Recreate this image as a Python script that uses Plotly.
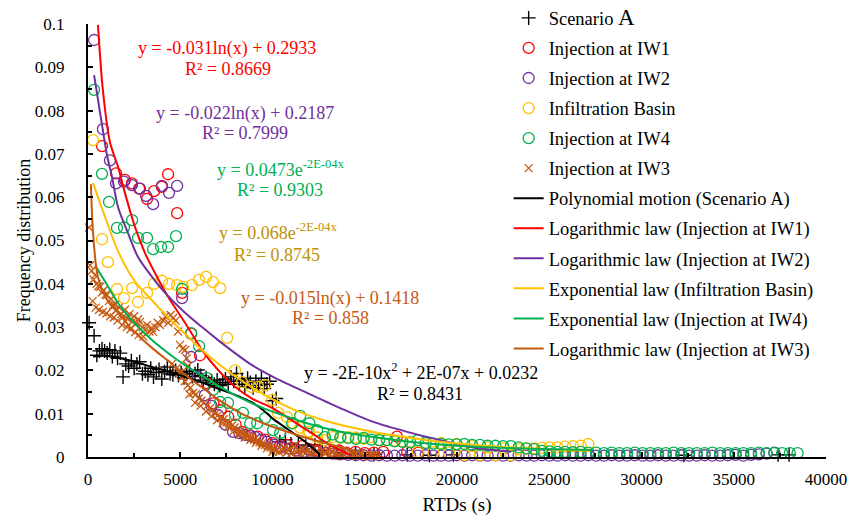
import plotly.graph_objects as go

# ---------------- data ----------------
SA_X = [60, 330, 480, 620, 760, 900, 1040, 1180, 1320, 1460, 1600, 1750, 1900,
        2050, 2200, 2350, 2500, 2650, 2800, 2950, 3100, 3250, 3400,
        3550, 3700, 3850, 4000, 4150, 4300, 4450, 4600, 4750, 4900,
        5050, 5200, 5350, 5500, 5650, 5800, 5950, 6100, 6250, 6400,
        6550, 6700, 6850, 7000, 7150, 7300, 7450, 7600, 7750, 7900,
        8050, 8200, 8350, 8500, 8650, 8800, 8950, 9100, 9250, 9400,
        9550, 9700, 9850, 10000, 10200, 10400, 10700, 11000, 11400, 11800,
        12300, 12700, 13500, 14500, 15500, 17300, 18500, 19800, 32300, 37400, 38000]
SA_Y = [0.031, 0.028, 0.0235, 0.0245, 0.025, 0.0245, 0.024, 0.0248, 0.0232, 0.0245, 0.0228, 0.024, 0.0185,
        0.0215, 0.021, 0.0222, 0.0205, 0.0215, 0.022, 0.0192, 0.0198, 0.019, 0.0205,
        0.0185, 0.0195, 0.0202, 0.018, 0.0197, 0.0208, 0.0192, 0.019, 0.02, 0.0188,
        0.0195, 0.0183, 0.0192, 0.0198, 0.0186, 0.0193, 0.0201, 0.0188, 0.0178, 0.0183,
        0.0172, 0.0176, 0.0168, 0.0178, 0.0165, 0.0172, 0.018, 0.0168, 0.0185, 0.0175,
        0.0193, 0.0168, 0.0178, 0.0163, 0.0182, 0.0172, 0.016, 0.0175, 0.0165, 0.0182,
        0.0158, 0.0168, 0.0175, 0.013, 0.0135, 0.0035, 0.004, 0.003, 0.0028, 0.0025,
        0.0028, 0.0015, 0.001, 0.0008, 0.0006, 0.0005, 0.0004, 0.0005, 0.0004, 0.0005, 0.0005]

IW1_X = [760, 1520, 2000, 2380, 2770, 3200, 3580, 4000, 4340, 4830,
         5100, 5590, 6070, 6450, 6800, 7200, 7600, 8000, 8350, 8800,
         9200, 9600, 10000, 10400, 10800, 11200, 11600, 12000, 12400, 12800,
         13200, 13600, 14000, 14500, 15000, 15500, 16000, 16750, 17300, 17900]
IW1_Y = [0.0718, 0.0655, 0.064, 0.0632, 0.062, 0.0596, 0.0614, 0.0624, 0.0653, 0.0563,
         0.0379, 0.0285, 0.0235, 0.017, 0.0124, 0.0108, 0.0093, 0.0075, 0.0058, 0.005,
         0.0047, 0.004, 0.0032, 0.0024, 0.0028, 0.002, 0.0025, 0.0018, 0.0015, 0.0022,
         0.0012, 0.0015, 0.001, 0.0012, 0.0009, 0.001, 0.0012, 0.0047, 0.0012, 0.001]

IW2_X = [330, 810, 1190, 1520, 1950, 2380, 2820, 3150, 3530, 4010, 4390, 4830,
         5100, 5590, 5970, 6340, 6700, 7050, 7450, 7860, 8200, 8510, 8800, 9060, 9400, 9700,
         10100, 10500, 10900, 11300, 11700]
IW2_Y = [0.0963, 0.0757, 0.0685, 0.0632, 0.0636, 0.0628, 0.062, 0.0603, 0.0584, 0.0626, 0.061, 0.0626,
         0.0367, 0.0231, 0.0185, 0.0143, 0.0118, 0.0097, 0.0075, 0.0058, 0.0055, 0.0051, 0.0048, 0.0046, 0.004, 0.0035,
         0.0028, 0.0022, 0.002, 0.0015, 0.0012]

BA_X = [270, 760, 1080, 1570, 1950, 2390, 2710, 3200, 3580, 4010, 4390, 4830, 5150, 5640, 6020, 6400, 6780, 7160,
        7540, 7970, 8350, 8840, 9220, 9600, 9980, 10300, 10790, 11120, 11500, 11930]
BA_Y = [0.0732, 0.0503, 0.045, 0.0388, 0.0367, 0.039, 0.0358, 0.0379, 0.04, 0.0407, 0.04, 0.0397, 0.0393, 0.0397, 0.0409, 0.0416, 0.0404, 0.039,
        0.0275, 0.02, 0.0173, 0.0162, 0.0162, 0.0166, 0.0132, 0.0102, 0.0092, 0.0078, 0.0068, 0.0058]

IW4_X = [330, 760, 1140, 1570, 1950, 2390, 2710, 3200, 3530, 3960, 4340, 4770,
         5100, 5590, 6020, 6450, 6780, 7160, 7590, 7970, 8400, 8790, 9170, 9600, 10030, 10410, 11060, 11500]
IW4_Y = [0.0848, 0.0654, 0.0589, 0.0529, 0.053, 0.0547, 0.0506, 0.0506, 0.048, 0.0485, 0.0485, 0.051,
         0.0388, 0.0286, 0.0256, 0.0182, 0.0155, 0.0127, 0.0125, 0.0097, 0.0102, 0.0078, 0.0078, 0.009, 0.0062, 0.0055, 0.0078, 0.0095]

# long tails near zero (shared time positions)
TAIL_X = [12000, 12420, 12840, 13260, 13680, 14100, 14520, 14940, 15360, 15780,
          16200, 16620, 17040, 17460, 17880, 18300, 18720, 19140, 19560, 19980,
          20400, 20820, 21240, 21660, 22080, 22500, 22920, 23340, 23760, 24180,
          24600, 25020, 25440, 25860, 26280, 26700, 27120, 27540, 27960, 28380,
          28800, 29220, 29640, 30060, 30480, 30900, 31320, 31740, 32160, 32580,
          33000, 33420, 33840, 34260, 34680, 35100, 35520, 35940, 36360, 36780,
          37200, 37620, 38040, 38460]
IW4_TAIL_Y = [0.0078, 0.0062, 0.0046, 0.0052, 0.0046, 0.0044, 0.0042, 0.0044, 0.004, 0.0039,
              0.0039, 0.0036, 0.0035, 0.0034, 0.0039, 0.0032, 0.0031, 0.003, 0.0029, 0.0029,
              0.003, 0.0028, 0.0028, 0.0026, 0.0026, 0.0025, 0.0025, 0.0022, 0.002, 0.0018,
              0.0014, 0.0013, 0.0012, 0.0012, 0.0011, 0.0012, 0.001, 0.001, 0.0009, 0.001,
              0.0009, 0.0009, 0.001, 0.0009, 0.0009, 0.0009, 0.0009, 0.001, 0.0009, 0.0009,
              0.0009, 0.0009, 0.001, 0.0009, 0.0009, 0.0009, 0.0009, 0.0009, 0.001, 0.0009,
              0.0009, 0.0009, 0.0009, 0.0009]
IW2_TAIL_Y = [0.0015, 0.0012, 0.001, 0.0008, 0.0006, 0.0005, 0.0004, 0.0004, 0.0003, 0.0004,
              0.0003, 0.0003, 0.0004, 0.0003, 0.0003, 0.0004, 0.0003, 0.0003, 0.0003, 0.0004,
              0.0003, 0.0004, 0.0003, 0.0003, 0.0004, 0.0003, 0.0003, 0.0004, 0.0003, 0.0003,
              0.0004, 0.0003, 0.0003, 0.0004, 0.0003, 0.0003, 0.0004, 0.0003, 0.0003, 0.0004,
              0.0003, 0.0003, 0.0004, 0.0003, 0.0003, 0.0004, 0.0003, 0.0003, 0.0004, 0.0003,
              0.0003, 0.0004, 0.0003, 0.0003, 0.0004, 0.0005, 0.0003, 0.0005, 0.0006, 0.0008,
              0.001]
BA_TAIL_Y = [0.0058, 0.0045, 0.0039, 0.0046, 0.0044, 0.0046, 0.0045, 0.0042, 0.0046, 0.0039,
             0.0039, 0.0038, 0.0036, 0.0035, 0.0012, 0.0033, 0.0011, 0.0032, 0.001, 0.003,
             0.0005, 0.0025, 0.0004, 0.0022, 0.0004, 0.002, 0.0004, 0.0018, 0.0019, 0.002,
             0.0021, 0.0022, 0.0022, 0.0024, 0.0025, 0.0026, 0.003]

IW3_X_UP = [60, 110, 200, 300, 380, 470, 560, 650, 750, 850,
            950, 1030, 1130, 1250, 1350, 1460, 1560, 1680, 1800, 1900,
            2000, 2120, 2250, 2390, 2500, 2620, 2720, 2820, 2950, 3090,
            3200, 3330, 3450, 3530, 3650, 3780, 3900, 4070, 4200, 4350,
            4480, 4610, 4750, 4880, 4990, 5130, 5260]
IW3_Y_UP = [0.053, 0.0443, 0.043, 0.041, 0.042, 0.040, 0.0395, 0.0393, 0.038, 0.0385,
            0.0375, 0.0374, 0.036, 0.0365, 0.035, 0.0351, 0.034, 0.0345, 0.033, 0.0323,
            0.034, 0.032, 0.033, 0.0312, 0.0325, 0.031, 0.0318, 0.0312, 0.030, 0.0293,
            0.0305, 0.029, 0.0298, 0.0289, 0.030, 0.031, 0.0305, 0.0316, 0.0325, 0.031,
            0.0328, 0.0321, 0.0315, 0.029, 0.0259, 0.025, 0.0247]
IW3_X_UP2 = [250, 420, 600, 800, 1000, 1200, 1400, 1600, 1850, 2100, 2300, 2550, 2750, 3000,
             4550, 4800, 4950, 5350, 5420]
IW3_Y_UP2 = [0.036, 0.0345, 0.034, 0.0335, 0.0332, 0.0325, 0.0322, 0.0315, 0.0305, 0.030, 0.0295, 0.0288, 0.0282, 0.0278,
             0.0215, 0.0205, 0.0195, 0.0228, 0.021]
IW3_X_MID = [5100, 5250, 5400, 5550, 5700, 5850, 6000, 6150, 6300, 6450, 6600, 6750, 6900, 7050, 7200, 7350, 7500, 7650,
             7800, 7950, 8100, 8250, 8400, 8550, 8700, 8850, 9000, 9150, 9300, 9450, 9600, 9750, 9900, 10050, 10200, 10350]
IW3_Y_MID = [0.0185, 0.0175, 0.0165, 0.016, 0.0148, 0.0145, 0.0135, 0.013, 0.0125, 0.0118, 0.0112, 0.0108, 0.010, 0.0097, 0.009, 0.0087, 0.008, 0.0078,
             0.0072, 0.0068, 0.0063, 0.006, 0.0055, 0.0052, 0.0048, 0.0045, 0.004, 0.0038, 0.0034, 0.0032, 0.0028, 0.0025, 0.0022, 0.0018, 0.0015, 0.0012]
IW3_X_MID2 = [5500, 5800, 6100, 6400, 6700, 7000, 7300, 7600, 7900, 8200, 8500, 8800, 9100, 9400, 9700, 10000]
IW3_Y_MID2 = [0.0145, 0.0125, 0.0118, 0.0105, 0.0095, 0.0085, 0.0078, 0.007, 0.006, 0.0052, 0.0045, 0.004, 0.0033, 0.0026, 0.002, 0.0012]
IW3_X_LOW = [10500, 10630, 10760, 10890, 11020, 11150, 11280, 11410, 11540, 11670, 11800, 11930, 12060, 12190, 12320,
             12450, 12580, 12710, 12840, 12970, 13100, 13230, 13360, 13490, 13620, 13750, 13880, 14010, 14140, 14270,
             14400, 14530, 14660, 14790, 14920, 15050, 15180, 15310, 15440, 15570, 15700]
IW3_Y_LOW = [0.0015, 0.0022, 0.001, 0.0018, 0.0008, 0.0025, 0.0012, 0.0016, 0.0006, 0.002, 0.001, 0.0015, 0.0005, 0.0018, 0.0009,
             0.0013, 0.0004, 0.0016, 0.0008, 0.0012, 0.0004, 0.0014, 0.0007, 0.001, 0.0003, 0.0012, 0.0006, 0.0009, 0.0003, 0.001,
             0.0005, 0.0008, 0.0003, 0.0007, 0.0004, 0.0006, 0.0002, 0.0005, 0.0003, 0.0004, 0.0002]

# trend lines
POLY_X = [270, 1000, 1630, 2500, 3470, 4400, 5260, 6200, 7050, 8240, 8890, 9500, 10030, 10700, 11300, 11870, 12580]
POLY_Y = [0.0232, 0.0234, 0.0229, 0.022, 0.0208, 0.0197, 0.0185, 0.0172, 0.0158, 0.0139, 0.0126, 0.0108, 0.0088, 0.0068, 0.005, 0.0032, 0.0005]
LOG1_X = [540, 800, 1190, 1630, 2000, 2550, 3090, 3630, 4340, 5260, 6180, 7050, 7970, 8890, 10030, 11870, 13120, 14200]
LOG1_Y = [0.0998, 0.085, 0.0727, 0.067, 0.061, 0.0531, 0.0471, 0.0425, 0.037, 0.031, 0.0247, 0.0201, 0.0162, 0.0135, 0.0112, 0.0062, 0.0028, 0.0005]
LOG2_X = [330, 760, 1030, 1300, 1630, 2170, 2710, 3470, 4180, 5260, 6180, 7050, 7970, 8890, 10030, 11870, 13670, 15460, 17300, 19090, 20720, 22900]
LOG2_Y = [0.0882, 0.0767, 0.0697, 0.0647, 0.0577, 0.0517, 0.0462, 0.0416, 0.0379, 0.0333, 0.030, 0.027, 0.024, 0.0212, 0.0185, 0.0148, 0.0113, 0.0081, 0.0058, 0.0039, 0.0023, 0.0012]
EXPB_X = [270, 920, 1630, 2550, 3400, 4400, 5370, 6500, 7860, 9500, 11120, 13000, 15000, 17500, 20000, 22500, 25000, 27200]
EXPB_Y = [0.0633, 0.0555, 0.0475, 0.0405, 0.0365, 0.032, 0.028, 0.0235, 0.019, 0.0145, 0.011, 0.0082, 0.0062, 0.0044, 0.0031, 0.0023, 0.0018, 0.0014]
EXP4_X = [380, 1000, 1630, 2500, 3470, 4400, 5260, 6200, 7050, 8240, 9500, 10680, 11870, 13500, 15460, 17300, 19090, 21260, 24000, 27400]
EXP4_Y = [0.0443, 0.040, 0.0355, 0.031, 0.027, 0.0238, 0.0212, 0.0187, 0.0165, 0.0137, 0.0113, 0.0095, 0.0078, 0.006, 0.0046, 0.0036, 0.0029, 0.0023, 0.0019, 0.0016]
LOG3_X = [160, 270, 540, 1080, 1630, 2500, 3470, 4400, 5260, 6200, 7050, 8240, 9500, 10680, 12000, 13500, 14500]
LOG3_Y = [0.063, 0.052, 0.0415, 0.036, 0.0333, 0.029, 0.0252, 0.022, 0.019, 0.016, 0.0133, 0.0102, 0.0078, 0.006, 0.0042, 0.0025, 0.0015]

X_TICKS = [0, 5000, 10000, 15000, 20000, 25000, 30000, 35000, 40000]
X_TICK_TEXT = [str(v) for v in X_TICKS]

# ---------------- colours ----------------
C_BLACK = "#000000"
C_RED = "#FF0000"
C_PURPLE = "#7030A0"
C_YELLOW = "#FFC000"
C_GREEN = "#00B050"
C_BROWN = "#C55A11"
C_GOLD_TXT = "#BF9000"

for xs, ys in [(SA_X, SA_Y), (IW1_X, IW1_Y), (IW2_X, IW2_Y), (BA_X, BA_Y), (IW4_X, IW4_Y),
               (TAIL_X, IW4_TAIL_Y), (TAIL_X[:len(IW2_TAIL_Y)], IW2_TAIL_Y), (TAIL_X[:len(BA_TAIL_Y)], BA_TAIL_Y),
               (IW3_X_UP, IW3_Y_UP), (IW3_X_UP2, IW3_Y_UP2), (IW3_X_MID, IW3_Y_MID), (IW3_X_MID2, IW3_Y_MID2),
               (IW3_X_LOW, IW3_Y_LOW), (POLY_X, POLY_Y), (LOG1_X, LOG1_Y), (LOG2_X, LOG2_Y), (EXPB_X, EXPB_Y),
               (EXP4_X, EXP4_Y), (LOG3_X, LOG3_Y)]:
    assert len(xs) == len(ys), (len(xs), len(ys))

FONT = "Liberation Serif, Times New Roman, serif"

fig = go.Figure()

def circles(name, xs, ys, color):
    fig.add_trace(go.Scatter(x=xs, y=ys, mode="markers", name=name, legendgroup=name,
                             cliponaxis=False,
                             marker=dict(symbol="circle-open", size=11, color=color, line=dict(width=1.3, color=color))))

fig.add_trace(go.Scatter(x=SA_X, y=SA_Y, mode="markers", name="Scenario <span style='font-size:23px'>A</span>",
                         legendgroup="sa", cliponaxis=False,
                         marker=dict(symbol="cross-thin-open", size=10, color=C_BLACK, line=dict(width=1.4, color=C_BLACK))))
circles("Injection at IW1", IW1_X, IW1_Y, C_RED)
circles("Injection at IW2", IW2_X + TAIL_X[:len(IW2_TAIL_Y)], IW2_Y + IW2_TAIL_Y, C_PURPLE)
circles("Infiltration Basin", BA_X + TAIL_X[:len(BA_TAIL_Y)], BA_Y + BA_TAIL_Y, C_YELLOW)
circles("Injection at IW4", IW4_X + TAIL_X, IW4_Y + IW4_TAIL_Y, C_GREEN)
fig.add_trace(go.Scatter(x=IW3_X_UP + IW3_X_UP2 + IW3_X_MID + IW3_X_MID2 + IW3_X_LOW,
                         y=IW3_Y_UP + IW3_Y_UP2 + IW3_Y_MID + IW3_Y_MID2 + IW3_Y_LOW,
                         mode="markers", name="Injection at IW3", legendgroup="iw3", cliponaxis=False,
                         marker=dict(symbol="x-thin-open", size=8, color=C_BROWN, line=dict(width=1.3, color=C_BROWN))))

def trend(name, xs, ys, color):
    fig.add_trace(go.Scatter(x=xs, y=ys, mode="lines", name=name, legendgroup=name,
                             line=dict(color=color, width=2, shape="spline", smoothing=0.8)))

trend("Polynomial motion (Scenario A)", POLY_X, POLY_Y, C_BLACK)
trend("Logarithmic law (Injection at IW1)", LOG1_X, LOG1_Y, C_RED)
trend("Logarithmic law (Injection at IW2)", LOG2_X, LOG2_Y, C_PURPLE)
trend("Exponential law (Infiltration Basin)", EXPB_X, EXPB_Y, C_YELLOW)
trend("Exponential law (Injection at IW4)", EXP4_X, EXP4_Y, C_GREEN)
trend("Logarithmic law (Injection at IW3)", LOG3_X, LOG3_Y, C_BROWN)

# ---------------- annotations (equation labels) ----------------
def px2x(px):
    return (px - 88) * 40000 / 738.0

def px2y(py):
    return (457 - py) / 4330.0

LABELS = [
    ("y = -0.031ln(x) + 0.2933", 227, 48, C_RED),
    ("R² = 0.8669", 228, 69, C_RED),
    ("y = -0.022ln(x) + 0.2187", 245, 113, C_PURPLE),
    ("R² = 0.7999", 245, 133, C_PURPLE),
    ("y = 0.0473e<sup>-2E-04x</sup>", 281, 168, C_GREEN),
    ("R² = 0.9303", 280, 190, C_GREEN),
    ("y = 0.068e<sup>-2E-04x</sup>", 278, 231, C_GOLD_TXT),
    ("R² = 0.8745", 277, 255, C_GOLD_TXT),
    ("y = -0.015ln(x) + 0.1418", 330, 298, C_BROWN),
    ("R² = 0.858", 330, 318, C_BROWN),
    ("y = -2E-10x<sup>2</sup> + 2E-07x + 0.0232", 421, 371, C_BLACK),
    ("R² = 0.8431", 420, 394, C_BLACK),
]
for text, px, py, col in LABELS:
    fig.add_annotation(x=px2x(px), y=px2y(py), xref="x", yref="y", text=text, showarrow=False,
                       xanchor="center", yanchor="middle", font=dict(family=FONT, size=18, color=col))

fig.update_layout(
    width=861, height=516,
    margin=dict(l=88, r=35, t=24, b=59, autoexpand=False),
    plot_bgcolor="white", paper_bgcolor="white",
    font=dict(family=FONT, size=17, color="black"),
    showlegend=True,
    legend=dict(x=0.570, y=0.207, xanchor="left", yanchor="bottom", bgcolor="rgba(0,0,0,0)",
                tracegroupgap=3, font=dict(family=FONT, size=18.5, color="black"),
                itemsizing="trace"),
    xaxis=dict(range=[0, 40000], tickvals=X_TICKS, ticktext=X_TICK_TEXT, ticks="inside", ticklen=5, tickwidth=1.5,
               tickcolor="black", automargin=False,
               showline=True, linecolor="black", linewidth=2, showgrid=False, zeroline=False,
               minor=dict(dtick=2500, ticks="inside", ticklen=4, tickwidth=1.5, tickcolor="black", showgrid=False),
               tickfont=dict(family=FONT, size=17), ticklabelstandoff=6,
               title=dict(text="RTDs (s)", font=dict(family=FONT, size=19), standoff=24)),
    yaxis=dict(range=[0, 0.1], dtick=0.01, tick0=0, ticks="inside", ticklen=5, tickwidth=1.5, tickcolor="black",
               showline=True, linecolor="black", linewidth=2, showgrid=False, zeroline=False, automargin=False,
               minor=dict(dtick=0.005, ticks="inside", ticklen=4, tickwidth=1.5, tickcolor="black", showgrid=False),
               tickfont=dict(family=FONT, size=17), ticklabelstandoff=18,
               title=dict(text="Frequency distribution", font=dict(family=FONT, size=18), standoff=0)),
)

fig.write_html("out.html")
